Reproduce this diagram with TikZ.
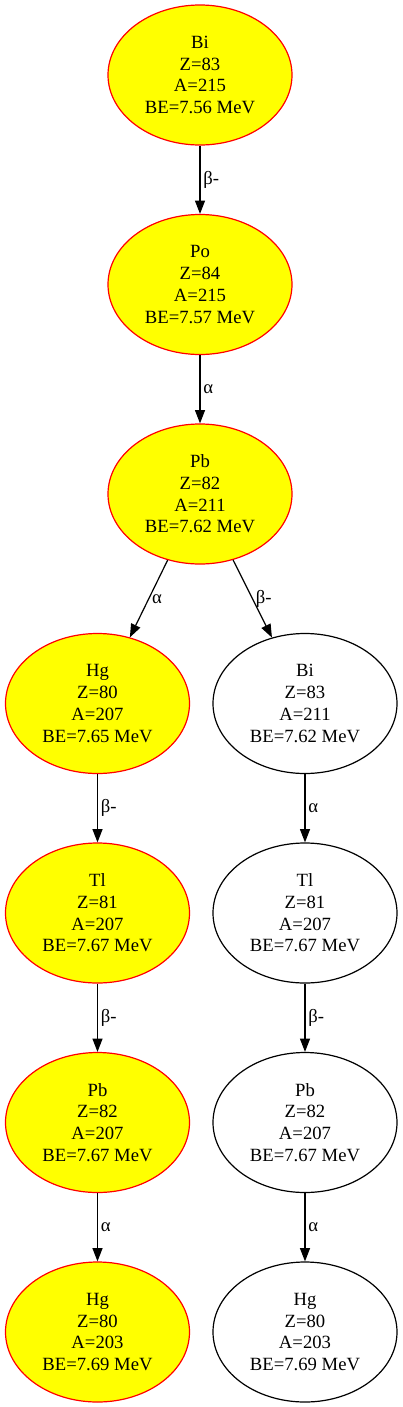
\documentclass[tikz,border=0pt]{standalone}
\usepackage{fontspec}
\setmainfont{Liberation Serif}
\usetikzlibrary{shapes.geometric,arrows.meta}
\definecolor{gvyellow}{RGB}{255,255,0}
\definecolor{gvred}{RGB}{255,0,0}
\begin{document}
\begin{tikzpicture}[x=0.75pt,y=-0.75pt,
 nuc/.style={ellipse,draw=black,line width=0.9pt,minimum width=138pt,minimum height=105pt,inner sep=0pt,align=center,font=\fontsize{14}{16.3}\selectfont},
 hl/.style={nuc,draw=gvred,fill=gvyellow},
 edge/.style={-{Triangle[length=10pt,width=7.5pt]},line width=0.9pt},
 lbl/.style={right,inner sep=2pt,font=\fontsize{14}{16}\selectfont}]
\useasboundingbox (0,0) rectangle (403,1407);
\node[hl] (bi1) at (200,75) {Bi\\Z=83\\A=215\\BE=7.56 MeV};
\node[hl] (po1) at (200,284.5) {Po\\Z=84\\A=215\\BE=7.57 MeV};
\node[hl] (pb1) at (200,494) {Pb\\Z=82\\A=211\\BE=7.62 MeV};
\node[hl] (hg1) at (97.5,703.5) {Hg\\Z=80\\A=207\\BE=7.65 MeV};
\node[nuc] (bi2) at (305,703.5) {Bi\\Z=83\\A=211\\BE=7.62 MeV};
\node[hl] (tl1) at (97.5,913) {Tl\\Z=81\\A=207\\BE=7.67 MeV};
\node[nuc] (tl2) at (305,913) {Tl\\Z=81\\A=207\\BE=7.67 MeV};
\node[hl] (pb2) at (97.5,1122.5) {Pb\\Z=82\\A=207\\BE=7.67 MeV};
\node[nuc] (pb3) at (305,1122.5) {Pb\\Z=82\\A=207\\BE=7.67 MeV};
\node[hl] (hg2) at (97.5,1332) {Hg\\Z=80\\A=203\\BE=7.69 MeV};
\node[nuc] (hg3) at (305,1332) {Hg\\Z=80\\A=203\\BE=7.69 MeV};
\draw[edge] (bi1) -- node[lbl] {β-} (po1);
\draw[edge] (po1) -- node[lbl] {α} (pb1);
\draw[edge] (pb1) -- node[lbl] {α} (hg1);
\draw[edge] (pb1) -- node[lbl] {β-} (bi2);
\draw[edge] (hg1) -- node[lbl] {β-} (tl1);
\draw[edge] (tl1) -- node[lbl] {β-} (pb2);
\draw[edge] (pb2) -- node[lbl] {α} (hg2);
\draw[edge] (bi2) -- node[lbl] {α} (tl2);
\draw[edge] (tl2) -- node[lbl] {β-} (pb3);
\draw[edge] (pb3) -- node[lbl] {α} (hg3);
\end{tikzpicture}
\end{document}
